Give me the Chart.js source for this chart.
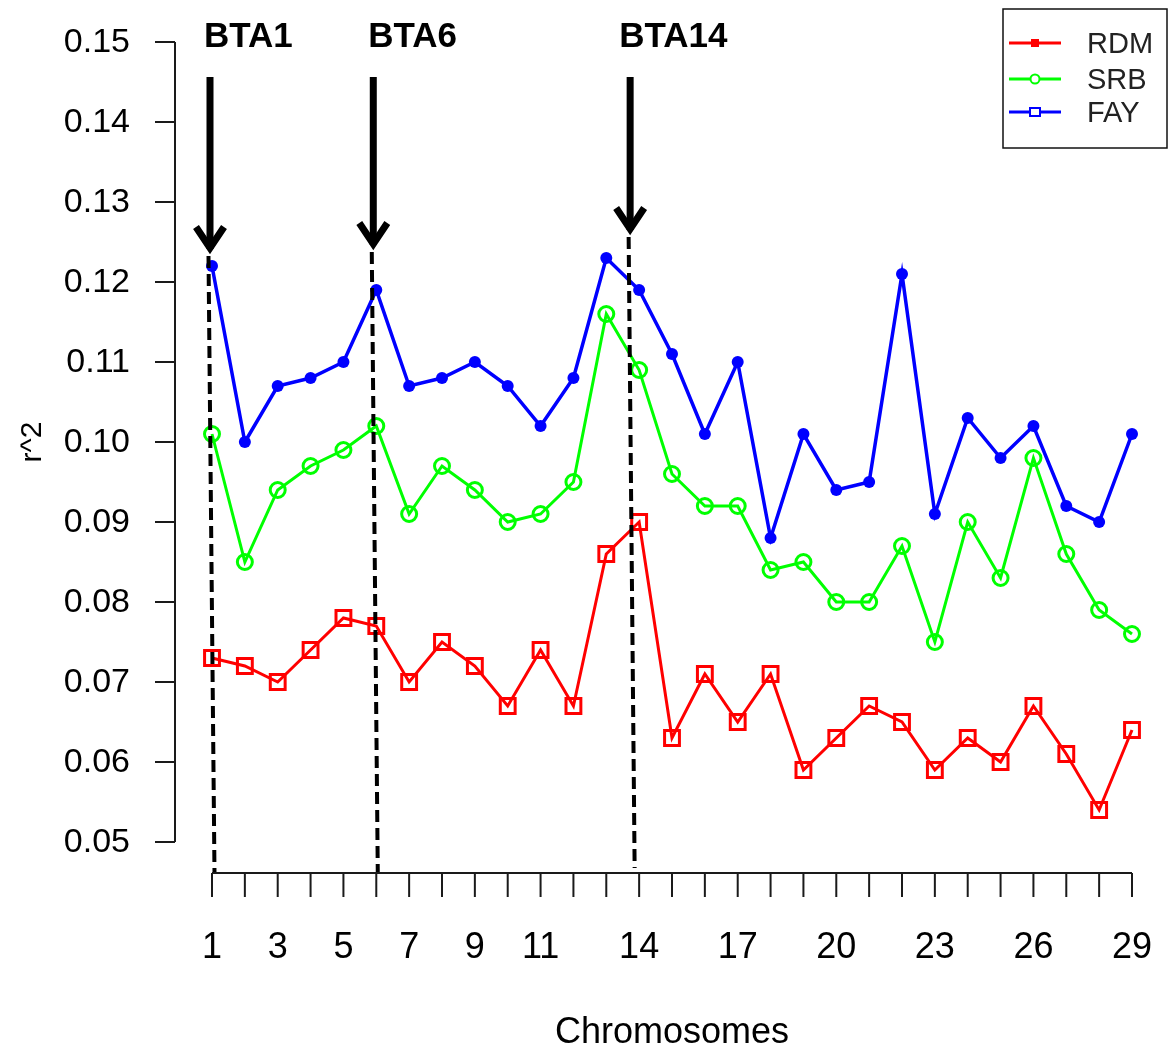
<!DOCTYPE html>
<html>
<head>
<meta charset="utf-8">
<title>r^2 by chromosome</title>
<script src="https://cdn.jsdelivr.net/npm/chart.js@4.4.1/dist/chart.umd.min.js"></script>
<style>
  html, body { margin: 0; padding: 0; background: #fff; }
  #wrap { width: 1168px; height: 1047px; }
</style>
</head>
<body>
<div id="wrap"><canvas id="ldChart" width="1168" height="1047"></canvas></div>
<script>
const chromosomes = [1, 2, 3, 4, 5, 6, 7, 8, 9, 10, 11, 12, 13, 14, 15, 16, 17, 18, 19, 20, 21, 22, 23, 24, 25, 26, 27, 28, 29];

const rdm = [0.073, 0.072, 0.070, 0.074, 0.078, 0.077, 0.070, 0.075, 0.072, 0.067, 0.074, 0.067, 0.086, 0.090, 0.063,
             0.071, 0.065, 0.071, 0.059, 0.063, 0.067, 0.065, 0.059, 0.063, 0.060, 0.067, 0.061, 0.054, 0.064];
const srb = [0.101, 0.085, 0.094, 0.097, 0.099, 0.102, 0.091, 0.097, 0.094, 0.090, 0.091, 0.095, 0.116, 0.109, 0.096,
             0.092, 0.092, 0.084, 0.085, 0.080, 0.080, 0.087, 0.075, 0.090, 0.083, 0.098, 0.086, 0.079, 0.076];
const fay = [0.122, 0.100, 0.107, 0.108, 0.110, 0.119, 0.107, 0.108, 0.110, 0.107, 0.102, 0.108, 0.123, 0.119, 0.111,
             0.101, 0.110, 0.088, 0.101, 0.094, 0.095, 0.121, 0.091, 0.103, 0.098, 0.102, 0.092, 0.090, 0.101];

const xTickLabels = [1, 3, 5, 7, 9, 11, 14, 17, 20, 23, 26, 29];
const yTicks = [0.05, 0.06, 0.07, 0.08, 0.09, 0.10, 0.11, 0.12, 0.13, 0.14, 0.15];

const btaNames = ['BTA1', 'BTA6', 'BTA14'];
const btaChromosomes = [1, 6, 14];

const seriesNames = ['RDM', 'SRB', 'FAY'];

const FONT = '"Liberation Sans", Arial, Helvetica, sans-serif';

const toPoints = (vals) => chromosomes.map((c, i) => ({ x: c, y: vals[i] }));

// R-style detached axes, drawn from the chart's own scales
const baseAxes = {
  id: 'baseAxes',
  afterDraw(chart) {
    const { ctx, scales: { x, y } } = chart;
    const axisX = x.left - 37;
    const axisY = y.bottom + 31;
    ctx.save();
    ctx.strokeStyle = '#1a1a1a';
    ctx.lineWidth = 2;

    ctx.beginPath();
    ctx.moveTo(axisX, y.getPixelForValue(yTicks[0]));
    ctx.lineTo(axisX, y.getPixelForValue(yTicks[yTicks.length - 1]));
    yTicks.forEach(v => {
      const py = y.getPixelForValue(v);
      ctx.moveTo(axisX - 20, py);
      ctx.lineTo(axisX, py);
    });
    ctx.moveTo(x.getPixelForValue(chromosomes[0]), axisY);
    ctx.lineTo(x.getPixelForValue(chromosomes[chromosomes.length - 1]), axisY);
    chromosomes.forEach(c => {
      const px = x.getPixelForValue(c);
      ctx.moveTo(px, axisY);
      ctx.lineTo(px, axisY + 24);
    });
    ctx.stroke();

    ctx.fillStyle = '#000';
    ctx.font = '34px ' + FONT;
    ctx.textAlign = 'right';
    ctx.textBaseline = 'middle';
    yTicks.forEach(v => ctx.fillText(v.toFixed(2), axisX - 45, y.getPixelForValue(v) + 1));

    ctx.font = '36px ' + FONT;
    ctx.textAlign = 'center';
    ctx.textBaseline = 'alphabetic';
    xTickLabels.forEach(c => ctx.fillText(String(c), x.getPixelForValue(c), axisY + 85));

    ctx.fillText('Chromosomes', (x.left + x.right) / 2, axisY + 170);

    ctx.translate(33, (y.top + y.bottom) / 2);
    ctx.rotate(-Math.PI / 2);
    ctx.font = '30px ' + FONT;
    ctx.textBaseline = 'middle';
    ctx.fillText('r^2', 0, 0);
    ctx.restore();
  }
};

// chromosome call-outs: bold name, arrow, dashed drop line
const btaArrows = {
  id: 'btaArrows',
  afterDatasetsDraw(chart) {
    const { ctx, scales: { x } } = chart;
    const shift = [-2, -3, -9];
    const tipY = [252, 248, 233];
    const labelGap = [6, 5, 11];
    const dropEnd = [873, 873, 868];
    ctx.save();
    btaChromosomes.forEach((c, i) => {
      const ax = x.getPixelForValue(c) + shift[i];

      ctx.strokeStyle = '#000';
      ctx.lineWidth = 4;
      ctx.setLineDash([12, 6]);
      ctx.beginPath();
      ctx.moveTo(ax - 1.5, tipY[i] + 4);
      ctx.lineTo(ax + 4.5, dropEnd[i]);
      ctx.stroke();
      ctx.setLineDash([]);

      ctx.lineWidth = 7;
      ctx.lineCap = 'butt';
      ctx.beginPath();
      ctx.moveTo(ax, 77);
      ctx.lineTo(ax, tipY[i] - 3);
      ctx.stroke();
      ctx.lineJoin = 'miter';
      ctx.beginPath();
      ctx.moveTo(ax - 14, tipY[i] - 25);
      ctx.lineTo(ax, tipY[i] - 4);
      ctx.lineTo(ax + 14, tipY[i] - 25);
      ctx.stroke();

      ctx.fillStyle = '#000';
      ctx.font = 'bold 35px ' + FONT;
      ctx.textAlign = 'left';
      ctx.textBaseline = 'alphabetic';
      ctx.fillText(btaNames[i], ax - labelGap[i], 47);
    });
    ctx.restore();
  }
};

// boxed legend in the top-right corner
const boxLegend = {
  id: 'boxLegend',
  afterDraw(chart) {
    const { ctx } = chart;
    const colors = ['#ff0000', '#00ff00', '#0000ff'];
    const rows = [43, 79, 112];
    ctx.save();
    ctx.strokeStyle = '#111';
    ctx.lineWidth = 1.5;
    ctx.strokeRect(1003, 9, 164, 139);
    seriesNames.forEach((name, i) => {
      const ry = rows[i];
      ctx.strokeStyle = colors[i];
      ctx.fillStyle = colors[i];
      ctx.lineWidth = 3;
      ctx.beginPath();
      ctx.moveTo(1009, ry);
      ctx.lineTo(1061, ry);
      ctx.stroke();
      ctx.lineWidth = 2;
      if (i === 0) {
        ctx.fillRect(1031, ry - 4, 8, 8);
      } else if (i === 1) {
        ctx.fillStyle = '#fff';
        ctx.beginPath();
        ctx.arc(1035, ry, 4.5, 0, Math.PI * 2);
        ctx.fill();
        ctx.stroke();
      } else {
        ctx.fillStyle = '#fff';
        ctx.fillRect(1030, ry - 4, 10, 8);
        ctx.strokeRect(1030, ry - 4, 10, 8);
      }
      ctx.fillStyle = '#222';
      ctx.font = '29px ' + FONT;
      ctx.textAlign = 'left';
      ctx.textBaseline = 'middle';
      ctx.fillText(name, 1087, ry + 2);
    });
    ctx.restore();
  }
};

new Chart(document.getElementById('ldChart'), {
  type: 'line',
  data: {
    datasets: [
      {
        label: seriesNames[0],
        data: toPoints(rdm),
        borderColor: '#ff0000',
        borderWidth: 3,
        pointStyle: 'rect',
        pointRadius: 10.5,
        pointBorderWidth: 3,
        pointBackgroundColor: 'rgba(0,0,0,0)',
        pointBorderColor: '#ff0000',
        tension: 0,
        clip: false
      },
      {
        label: seriesNames[1],
        data: toPoints(srb),
        borderColor: '#00ff00',
        borderWidth: 3,
        pointStyle: 'circle',
        pointRadius: 7.5,
        pointBorderWidth: 3,
        pointBackgroundColor: 'rgba(0,0,0,0)',
        pointBorderColor: '#00ff00',
        tension: 0,
        clip: false
      },
      {
        label: seriesNames[2],
        data: toPoints(fay),
        borderColor: '#0000ff',
        borderWidth: 3.5,
        pointStyle: 'circle',
        pointRadius: 6,
        pointBorderWidth: 0,
        pointBackgroundColor: '#0000ff',
        pointBorderColor: '#0000ff',
        tension: 0,
        clip: false
      }
    ]
  },
  options: {
    responsive: false,
    animation: false,
    devicePixelRatio: 1,
    layout: { padding: { left: 212, right: 36, top: 42, bottom: 205 } },
    scales: {
      x: { type: 'linear', min: 1, max: 29, display: false },
      y: { min: 0.05, max: 0.15, display: false }
    },
    plugins: {
      legend: { display: false },
      tooltip: { enabled: false }
    }
  },
  plugins: [baseAxes, btaArrows, boxLegend]
});
</script>
</body>
</html>
